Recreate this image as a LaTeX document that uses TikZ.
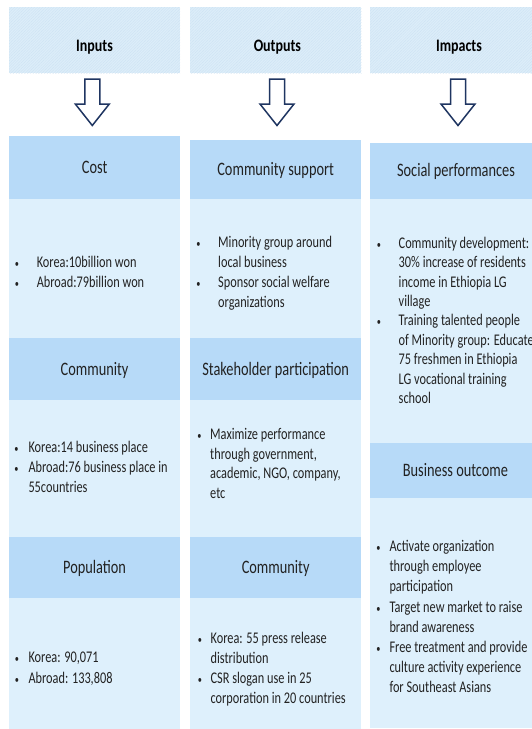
\documentclass[tikz,border=0pt]{standalone}
\usepackage{fontspec}
\usetikzlibrary{fit,patterns.meta}
\newfontfamily\bodyfont{Carlito}[FakeStretch=0.755]
\newfontfamily\titlefont{Carlito}[FakeStretch=0.8]
\definecolor{topfill}{HTML}{DCEDF9}
\definecolor{hatchcol}{HTML}{CCE2F3}
\definecolor{headfill}{HTML}{B7DAF8}
\definecolor{bodyfill}{HTML}{DEF0FC}
\definecolor{arrowcol}{HTML}{1F3561}
\definecolor{inkcol}{HTML}{222222}
\tikzset{
  topbox/.style={inner sep=0pt, fill=topfill,
    postaction={pattern={Lines[angle=45,distance=2pt,line width=0.35pt]}, pattern color=hatchcol}},
  headbox/.style={inner sep=0pt, fill=headfill},
  bodybox/.style={inner sep=0pt, fill=bodyfill},
  toptext/.style={font=\titlefont\bfseries\fontsize{17.5}{20}\selectfont, text=black, inner sep=0pt, anchor=base},
  headtext/.style={font=\bodyfont\fontsize{19}{22}\selectfont, text=inkcol, inner sep=0pt, anchor=base, yshift=-6pt},
  % multi-line text: placed by the baseline of its last line
  txt/.style={font=\bodyfont\fontsize{16.3}{#1}\selectfont, text=inkcol, inner sep=0pt,
    anchor=base west, align=left},
  txt/.default=20.2,
  bul/.style={font=\bodyfont\fontsize{11}{11}\selectfont, text=inkcol, inner sep=0pt, anchor=base},
  blockarrow/.style={draw=arrowcol, line width=1.5pt, fill=white, line join=miter}
}
\begin{document}
\begin{tikzpicture}[x=1pt,y=-1pt]
\useasboundingbox (0,0) rectangle (532,729);
\fill[white] (0,0) rectangle (532,729);

% ---- column titles ----
\node[topbox, fit={(9,7) (180.2,73)}] (inTop) {};
\node[topbox, fit={(190,7) (361.3,73)}] (outTop) {};
\node[topbox, fit={(370,7) (545,73)}] (impTop) {};
\node[toptext] (inTopT) at (94.5,51.5) {Inputs};
\node[toptext] (outTopT) at (277.4,51.5) {Outputs};
\node[toptext] (impTopT) at (459,51.5) {Impacts};

% ---- Inputs column ----
\node[headbox, fit={(9,136) (180.2,199)}] (costH) {};
\node[bodybox, fit={(9,199) (180.2,337.6)}] (costB) {};
\node[headbox, fit={(9,337.6) (180.2,400.4)}] (commH) {};
\node[bodybox, fit={(9,400.4) (180.2,536.5)}] (commB) {};
\node[headbox, fit={(9,536.5) (180.2,597.6)}] (popH) {};
\node[bodybox, fit={(9,597.6) (180.2,729)}] (popB) {};
\node[headtext] (costT) at (costH.center) {Cost};
\node[headtext] (commT) at (commH.center) {Community};
\node[headtext] (popT) at (popH.center) {Population};

% ---- Outputs column ----
\node[headbox, fit={(190,140) (361.3,199)}] (supH) {};
\node[bodybox, fit={(190,199) (361.3,337.6)}] (supB) {};
\node[headbox, fit={(190,337.6) (361.3,400.4)}] (stkH) {};
\node[bodybox, fit={(190,400.4) (361.3,536.5)}] (stkB) {};
\node[headbox, fit={(190,536.5) (361.3,597.6)}] (ocomH) {};
\node[bodybox, fit={(190,597.6) (361.3,729)}] (ocomB) {};
\node[headtext] (supT) at (supH.center) {Community support};
\node[headtext] (stkT) at (stkH.center) {Stakeholder participation};
\node[headtext] (ocomT) at (ocomH.center) {Community};

% ---- Impacts column ----
\node[headbox, fit={(370,142.6) (542,199)}] (socH) {};
\node[bodybox, fit={(370,199) (542,442.8)}] (socB) {};
\node[headbox, fit={(370,442.8) (542,497.5)}] (busH) {};
\node[bodybox, fit={(370,497.5) (542,727.8)}] (busB) {};
\node[headtext] (socT) at (456,170.8) {Social performances};
\node[headtext] (busT) at (455.5,470.2) {Business outcome};

% ---- block arrows from the titles down to the first sections ----
\coordinate (inA) at (92.3,79);
\coordinate (outA) at (277,79);
\coordinate (impA) at (458,79);
\foreach \a in {inA,outA,impA}
  \draw[blockarrow] (\a) ++(-7.5,0) -- ++(0,25) -- ++(-9.5,0) -- ++(17,21.5)
    -- ++(17,-21.5) -- ++(-9.5,0) -- ++(0,-25) -- cycle;

% ---- Inputs texts ----
\node[bul] (costB1) at (17,267) {•};
\node[bul] (costB2) at (17,287) {•};
\node[txt=20] (costX) at (36.6,287) {Korea:10billion won\\Abroad:79billion won};

\node[bul] (commB1) at (16.5,452.7) {•};
\node[bul] (commB2) at (16.5,472.7) {•};
\node[txt=20] (commX) at (28.3,492.7) {Korea:14 business place\\Abroad:76 business place in\\55countries};

\node[bul] (popB1) at (17,662.7) {•};
\node[bul] (popB2) at (17,683) {•};
\node[txt=20.3] (popX) at (28.3,683) {Korea: 90,071\\Abroad: 133,808};

% ---- Outputs texts ----
\node[bul] (supB1) at (198.5,247) {•};
\node[bul] (supB2) at (198.5,287.6) {•};
\node[txt=20.3] (supX) at (218,307.9) {Minority group around\\local business\\Sponsor social welfare\\organizations};

\node[bul] (stkB1) at (199.5,439.5) {•};
\node[txt=19.5] (stkX) at (210,498) {Maximize performance\\through government,\\academic, NGO, company,\\etc};

\node[bul] (ocomB1) at (200,643.3) {•};
\node[bul] (ocomB2) at (200,683.7) {•};
\node[txt=20.2] (ocomX) at (210.4,703.9) {Korea: 55 press release\\distribution\\CSR slogan use in 25\\corporation in 20 countries};

% ---- Impacts texts ----
\node[bul] (socB1) at (379,248.3) {•};
\node[bul] (socB2) at (379,325.9) {•};
\node[txt=19.4] (socX) at (398.5,403.5) {Community development:\\30\% increase of residents\\income in Ethiopia LG\\village\\Training talented people\\of Minority group: Educate\\75 freshmen in Ethiopia\\LG vocational training\\school};

\node[bul] (busB1) at (378.5,551.7) {•};
\node[bul] (busB2) at (378.5,612) {•};
\node[bul] (busB3) at (378.5,652.2) {•};
\node[txt=20.1] (busX) at (389.3,692.4) {Activate organization\\through employee\\participation\\Target new market to raise\\brand awareness\\Free treatment and provide\\culture activity experience\\for Southeast Asians};
\end{tikzpicture}
\end{document}
